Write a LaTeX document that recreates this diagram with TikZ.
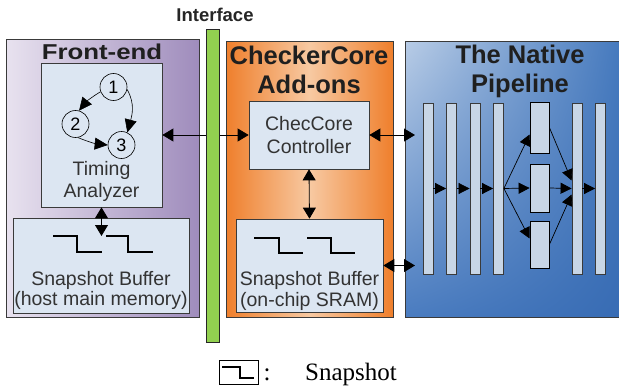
\documentclass[tikz,border=0pt]{standalone}
\usepackage{fontspec}
\usepackage{graphicx}
\setmainfont{Liberation Sans}
\newfontfamily\tms{Liberation Serif}
\usetikzlibrary{arrows.meta,shadings}
\definecolor{boxfill}{HTML}{DCE6F2}
\definecolor{barfill}{HTML}{C8D6E6}
\definecolor{greenbar}{HTML}{92D050}
\definecolor{edgegray}{HTML}{3A3A3A}
\definecolor{bUL}{RGB}{184,204,230}
\definecolor{bUR}{RGB}{70,122,190}
\definecolor{bLL}{RGB}{74,124,192}
\definecolor{bLR}{RGB}{56,108,180}
\definecolor{feL}{HTML}{E8E2EF}
\definecolor{feR}{HTML}{9F8CBC}
\definecolor{ocE}{HTML}{EF7F2C}
\definecolor{ocM}{HTML}{F7C9A2}
\tikzset{
  panel/.style={draw=edgegray, line width=0.8pt, inner sep=0pt},
  wbox/.style={draw=edgegray, fill=boxfill, line width=0.7pt, inner sep=0pt},
  pbar/.style={draw=edgegray, fill=barfill, line width=0.8pt, inner sep=0pt, minimum width=10pt, minimum height=171pt},
  pbox/.style={draw=black, fill=barfill, line width=0.8pt, inner sep=0pt, minimum width=19pt},
  circ/.style={draw=black, circle, line width=0.6pt, minimum size=27pt, inner sep=0pt, font=\fontsize{18}{18}\selectfont},
  bigarr/.style={line width=0.8pt, {Triangle[length=11pt,width=13pt]}-{Triangle[length=11pt,width=13pt]}},
  sarr/.style={line width=0.7pt, -{Triangle[length=11pt,width=11pt]}},
  carr/.style={line width=0.6pt, -{Triangle[length=13pt,width=12pt]}},
  wave/.style={line width=1.6pt, black},
  title/.style={font=\fontsize{25.5}{29}\selectfont\bfseries, text=black!88, anchor=base, inner sep=0pt},
  btext/.style={font=\fontsize{19.5}{22}\selectfont, text=black!80, anchor=base, inner sep=0pt},
}
\begin{document}
\begin{tikzpicture}[x=1pt,y=-1pt]
\useasboundingbox (0,0) rectangle (619,388);
% panels
\shade[left color=feL, right color=feR] (6,39) rectangle (199,317);
\draw[panel] (6,39) rectangle (199,317);
\shade[left color=ocE, right color=ocE, middle color=ocM] (226,41) rectangle (393,317);
\draw[panel] (226,41) rectangle (393,317);
\shade[upper left=bUL, upper right=bUR, lower left=bLL, lower right=bLR] (405,41) rectangle (619,317);
\draw[panel] (619,41) -- (405,41) -- (405,317) -- (619,317);
% titles
\node[title] (tfe) at (102,59) {\scalebox{1.2}[1]{\fontsize{21.5}{24}\selectfont Front-end}};
\node[title] (tcc1) at (309,64) {CheckerCore};
\node[title] (tcc2) at (309,93) {Add-ons};
\node[title] (tnp1) at (520,63) {The Native};
\node[title] (tnp2) at (520,92) {Pipeline};
% front-end boxes
\node[wbox, minimum width=121pt, minimum height=144pt] (ta) at (101.5,135) {};
\node[wbox, minimum width=176pt, minimum height=95pt] (hb) at (101,265.5) {};
\node[btext] (tat1) at (101.5,175) {Timing};
\node[btext] (tat2) at (101.5,197) {Analyzer};
\node[btext] (hbt1) at (101,285) {Snapshot Buffer};
\node[btext] (hbt2) at (101,305) {(host main memory)};
% circles
\node[circ] (c1) at (113.5,87) {1};
\node[circ] (c2) at (75.5,124) {2};
\node[circ] (c3) at (121.5,145) {3};
\draw[carr] (c1.200) to[bend right=10] (c2.75);
\draw[carr] (c1.-10) to[out=-60,in=75] (c3.65);
\draw[carr] (c2.-80) to[bend right=8] (c3.west);
% checkercore boxes
\node[wbox, minimum width=120pt, minimum height=68pt] (ctrl) at (309,135) {};
\node[btext] (ct1) at (309,130) {ChecCore};
\node[btext] (ct2) at (309,153) {Controller};
\node[wbox, minimum width=147pt, minimum height=93pt] (sram) at (309.5,265.5) {};
\node[btext] (st1) at (309.5,285) {Snapshot Buffer};
\node[btext] (st2) at (309.5,306) {(on-chip SRAM)};
% waves
\draw[wave] (53,236) -- (77,236) -- (77,252) -- (102,252);
\draw[wave] (106,236) -- (128,236) -- (128,252) -- (153,252);
\draw[wave] (254,238) -- (279,238) -- (279,253) -- (303,253);
\draw[wave] (307,238) -- (331,238) -- (331,253) -- (355,253);
% connectors
\coordinate (hbin) at (101.5,236);
\coordinate (pin1) at (415,135);
\coordinate (pin2) at (415,265.5);
\draw[bigarr] (ta.east) -- (ctrl.west);
\draw[bigarr] (ta.south) -- (hbin);
\draw[bigarr] (ctrl.south) -- (sram.north);
\draw[bigarr] (ctrl.east) -- (pin1);
\draw[bigarr] (sram.east) -- (pin2);
% interface bar
\draw[fill=greenbar, draw=black!85, line width=0.8pt] (206,29) rectangle (219,342);
\node[font=\fontsize{18.5}{20}\selectfont\bfseries, text=black!85, anchor=base, inner sep=0pt] (itf) at (215,21) {Interface};
% pipeline
\node[pbar] (b1) at (428,188.5) {};
\node[pbar] (b2) at (451.5,188.5) {};
\node[pbar] (b3) at (475,188.5) {};
\node[pbar] (b4) at (498.5,188.5) {};
\node[pbar] (b5) at (577,188.5) {};
\node[pbar] (b6) at (600.5,188.5) {};
\node[pbox, minimum height=51pt] (x1) at (539.5,127.5) {};
\node[pbox, minimum height=48pt] (x2) at (539.5,188) {};
\node[pbox, minimum height=47pt] (x3) at (539.5,244.5) {};
\draw[sarr] (b1.east) -- (b2.west);
\draw[sarr] (b2.east) -- (b3.west);
\draw[sarr] (b3.east) -- (b4.west);
\draw[sarr] (b4.east) -- ([yshift=-7pt]x1.west);
\draw[sarr] (b4.east) -- (x2.west);
\draw[sarr] (b4.east) -- ([yshift=6pt]x3.west);
\draw[sarr] (x1.east) -- ([yshift=8pt]b5.west);
\draw[sarr] (x2.east) -- (b5.west);
\draw[sarr] (x3.east) -- ([yshift=-6pt]b5.west);
\draw[sarr] (b5.east) -- (b6.west);
% legend
\node[draw=black, line width=0.7pt, minimum width=39pt, minimum height=24pt, inner sep=0pt] (lg) at (238.5,372.5) {};
\draw[line width=1.4pt] (222,367) -- (240,367) -- (240,378) -- (254,378);
\node[font=\tms\fontsize{25}{25}\selectfont, anchor=base, inner sep=0pt] (lgc) at (267,380) {:};
\node[font=\tms\fontsize{25}{25}\selectfont, anchor=base west, inner sep=0pt] (lgt) at (305,380) {Snapshot};
\end{tikzpicture}
\end{document}
